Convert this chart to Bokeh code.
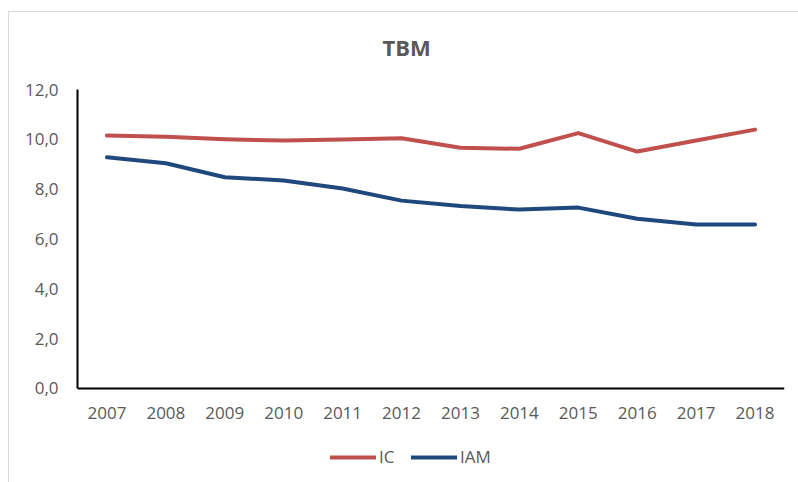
from bokeh.plotting import figure
from bokeh.models import Range1d, FixedTicker, Legend, LegendItem
from bokeh.embed import file_html
from bokeh.resources import INLINE

years = ["2007", "2008", "2009", "2010", "2011", "2012", "2013", "2014", "2015", "2016", "2017", "2018"]
ic = [10.15, 10.1, 10.0, 9.95, 9.99, 10.04, 9.66, 9.62, 10.25, 9.51, 9.95, 10.39]
iam = [9.28, 9.04, 8.48, 8.35, 8.03, 7.54, 7.32, 7.18, 7.26, 6.81, 6.58, 6.58]
y_ticks = [0, 2, 4, 6, 8, 10, 12]
y_tick_labels = ["0,0", "2,0", "4,0", "6,0", "8,0", "10,0", "12,0"]

FONT = "Open Sans"
GRAY = "#595959"

# frame extends below 0 so the legend can sit inside it; x axis pinned at y = 0
p = figure(width=798, height=482, x_range=years, y_range=Range1d(-3.492, 12),
           output_backend="svg", toolbar_location=None,
           min_border_left=77, min_border_right=14, min_border_top=89, min_border_bottom=7)
p.border_fill_alpha = 0
p.background_fill_alpha = 0
p.styles = {
    "background-image": "linear-gradient(#d9d9d9, #d9d9d9), linear-gradient(#d9d9d9, #d9d9d9)",
    "background-size": "1px 471px, 790px 1px",
    "background-position": "8px 11px, 8px 11px",
    "background-repeat": "no-repeat",
    "background-color": "white",
}

p.title.text = "TBM"
p.title.text_font = FONT
p.title.text_font_size = "22px"
p.title.text_font_style = "bold"
p.title.text_color = GRAY
p.title.align = "left"
p.title.offset = 305
p.title.standoff = 55

p.outline_line_color = None
p.xgrid.grid_line_color = None
p.ygrid.grid_line_color = None

for ax in (p.xaxis[0], p.yaxis[0]):
    ax.axis_line_color = "black"
    ax.axis_line_width = 2
    ax.major_tick_line_color = None
    ax.minor_tick_line_color = None
    ax.major_tick_out = 0
    ax.major_tick_in = 0
    ax.major_label_text_font = FONT
    ax.major_label_text_font_size = "17px"
    ax.major_label_text_color = GRAY

p.xaxis[0].fixed_location = 0
p.xaxis[0].major_label_standoff = 19
p.yaxis[0].bounds = (0, 12)
p.yaxis[0].ticker = FixedTicker(ticks=y_ticks)
p.yaxis[0].major_label_overrides = {t: l for t, l in zip(y_ticks, y_tick_labels)}
p.yaxis[0].major_label_standoff = 19

r1 = p.line(years, ic, line_width=4, color="#C0504D", line_cap="round", line_join="round")
r2 = p.line(years, iam, line_width=4, color="#1F497D", line_cap="round", line_join="round")

legend = Legend(items=[LegendItem(label="IC", renderers=[r1]), LegendItem(label="IAM", renderers=[r2])],
                location=(253, 7), orientation="horizontal",
                glyph_width=46, glyph_height=20, label_standoff=3, label_width=16, label_height=20,
                spacing=16, padding=0, margin=0, border_line_color=None, background_fill_alpha=0,
                label_text_font=FONT, label_text_font_size="17px", label_text_color=GRAY)
p.add_layout(legend, "center")

open("out.html", "w").write(file_html(p, INLINE))
